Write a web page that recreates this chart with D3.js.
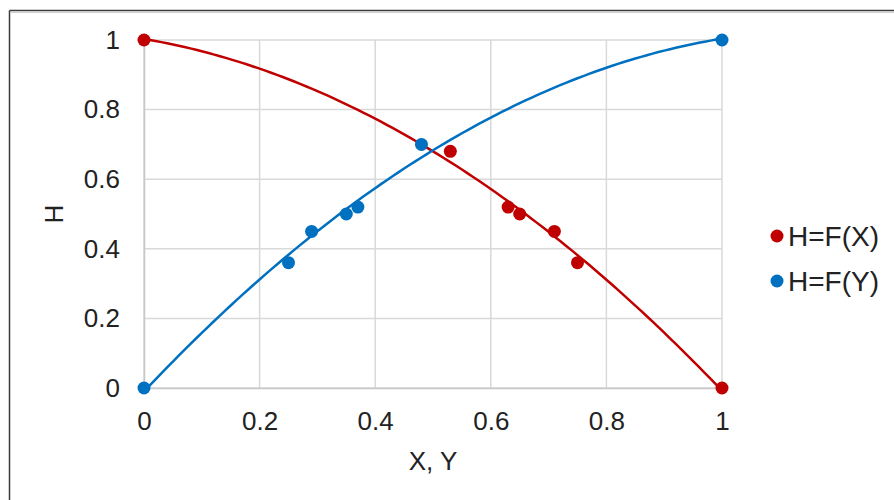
<!DOCTYPE html>
<html>
<head>
<meta charset="utf-8">
<script src="https://cdn.jsdelivr.net/npm/d3@7"></script>
<style>
  html, body { margin: 0; padding: 0; background: #fff; }
  svg { display: block; }
  text { font-family: "Liberation Sans", Arial, sans-serif; fill: #222; }
</style>
</head>
<body>
<svg id="chart" width="894" height="500"></svg>
<script>
// ---- data ----
const seriesNames = ["H=F(X)", "H=F(Y)"];
const seriesColors = ["#C00000", "#0070C0"];
const xValuesX = [0, 0.53, 0.63, 0.65, 0.71, 0.75, 1];
const hValuesX = [1, 0.68, 0.52, 0.50, 0.45, 0.36, 0];
const xValuesY = [0, 0.25, 0.29, 0.35, 0.37, 0.48, 1];
const hValuesY = [0, 0.36, 0.45, 0.50, 0.52, 0.70, 1];
const xTicks = [0, 0.2, 0.4, 0.6, 0.8, 1];
const yTicks = [0, 0.2, 0.4, 0.6, 0.8, 1];
const xTitle = "X, Y";
const yTitle = "H";

(function () {
// ---- polynomial (order 2) least squares trendline ----
function polyFit2(xs, ys) {
  let S = [0,0,0,0,0], T = [0,0,0];
  xs.forEach((xv, i) => {
    for (let k = 0; k < 5; k++) S[k] += Math.pow(xv, k);
    for (let k = 0; k < 3; k++) T[k] += ys[i] * Math.pow(xv, k);
  });
  const A = [[S[0],S[1],S[2],T[0]],[S[1],S[2],S[3],T[1]],[S[2],S[3],S[4],T[2]]];
  for (let i = 0; i < 3; i++) {
    const p = A[i][i];
    for (let j = i; j < 4; j++) A[i][j] /= p;
    for (let r = 0; r < 3; r++) if (r !== i) {
      const f = A[r][i];
      for (let j = i; j < 4; j++) A[r][j] -= f * A[i][j];
    }
  }
  const c = [A[0][3], A[1][3], A[2][3]];
  return t => c[0] + c[1]*t + c[2]*t*t;
}

const FONT = "Liberation Sans, Arial, sans-serif";
const svg = d3.select("#chart");
const pLeft = 144, pRight = 722, pTop = 40, pBottom = 388;
const x = d3.scaleLinear().domain([0, 1]).range([pLeft, pRight]);
const y = d3.scaleLinear().domain([0, 1]).range([pBottom, pTop]);

// frame
svg.append("line").attr("x1", 9.5).attr("y1", 10.5).attr("x2", 894).attr("y2", 10.5)
  .attr("stroke", "#3a3a3a").attr("stroke-width", 1.5);
svg.append("line").attr("x1", 9.5).attr("y1", 10.5).attr("x2", 9.5).attr("y2", 500)
  .attr("stroke", "#3a3a3a").attr("stroke-width", 1.5);
svg.append("line").attr("x1", 10.5).attr("y1", 12.5).attr("x2", 894).attr("y2", 12.5)
  .attr("stroke", "#cfcfcf").attr("stroke-width", 1);

// gridlines
const grid = svg.append("g");
grid.selectAll(".vg").data(xTicks).enter().append("line")
  .attr("x1", d => x(d)).attr("x2", d => x(d)).attr("y1", pTop).attr("y2", pBottom)
  .attr("stroke", "#d9d9d9").attr("stroke-width", 1.5);
grid.selectAll(".hg").data(yTicks).enter().append("line")
  .attr("x1", pLeft).attr("x2", pRight).attr("y1", d => y(d)).attr("y2", d => y(d))
  .attr("stroke", "#d9d9d9").attr("stroke-width", 1.5);

// axes
const xAxis = d3.axisBottom(x).tickValues(xTicks).tickSize(0)
  .tickFormat(d => d3.format("~g")(d));
const gx = svg.append("g").attr("transform", `translate(0,${pBottom})`).call(xAxis);
gx.attr("font-size", 26).attr("font-family", FONT);
gx.select(".domain").attr("stroke", "#c8c8c8").attr("stroke-width", 1.5);
gx.selectAll("text").attr("font-size", 26).attr("fill", "#222")
  .attr("font-family", FONT).attr("dy", "0.71em").attr("y", 24);

const yAxis = d3.axisLeft(y).tickValues(yTicks).tickSize(0).tickPadding(24)
  .tickFormat(d => d3.format("~g")(d));
const gy = svg.append("g").attr("transform", `translate(${pLeft},0)`).call(yAxis);
gy.attr("font-size", 26).attr("font-family", FONT);
gy.select(".domain").attr("stroke", "#c8c8c8").attr("stroke-width", 1.5);
gy.selectAll("text").attr("font-size", 26).attr("fill", "#222")
  .attr("font-family", FONT);

// axis titles
svg.append("text").attr("x", x(0.5)).attr("y", 470).attr("text-anchor", "middle")
  .attr("font-size", 26).text(xTitle);
svg.append("text").attr("transform", `translate(63,${y(0.5)}) rotate(-90)`)
  .attr("text-anchor", "middle").attr("font-size", 26).text(yTitle);

// series
const series = [
  { name: seriesNames[0], color: seriesColors[0], xs: xValuesX, ys: hValuesX },
  { name: seriesNames[1], color: seriesColors[1], xs: xValuesY, ys: hValuesY }
];
const samples = d3.range(0, 1.0001, 0.01);
const line = d3.line().x(d => x(d[0])).y(d => y(d[1]));
series.forEach(s => {
  const f = polyFit2(s.xs, s.ys);
  svg.append("path").datum(samples.map(t => [t, f(t)]))
    .attr("d", line).attr("fill", "none").attr("stroke", s.color).attr("stroke-width", 2.5);
});
series.forEach(s => {
  svg.append("g").selectAll("circle").data(s.xs.map((v, i) => [v, s.ys[i]])).enter()
    .append("circle").attr("cx", d => x(d[0])).attr("cy", d => y(d[1])).attr("r", 6.5)
    .attr("fill", s.color);
});

// legend
const lg = svg.append("g");
series.forEach((s, i) => {
  const ly = 236 + i * 45;
  lg.append("circle").attr("cx", 777).attr("cy", ly).attr("r", 6.5).attr("fill", s.color);
  lg.append("text").attr("x", 788).attr("y", ly).attr("dy", "0.36em")
    .attr("font-size", 28).text(s.name);
});
})();
</script>
</body>
</html>
